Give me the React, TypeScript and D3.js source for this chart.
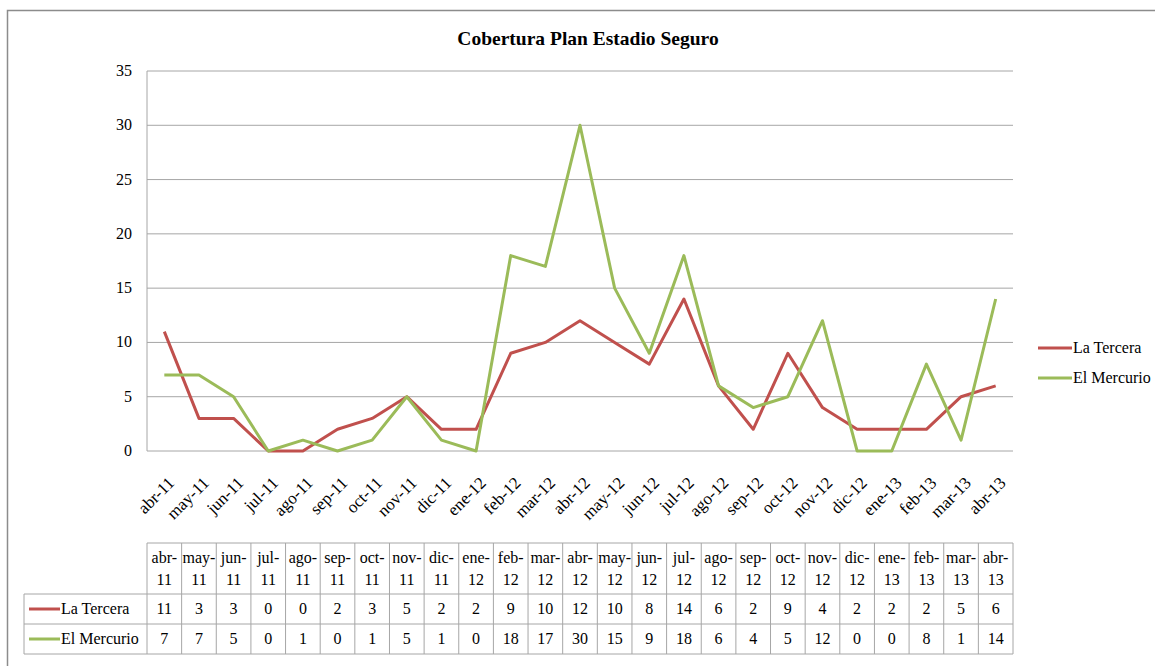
import React from 'react';
import * as d3 from 'd3';

const months = ['abr-11','may-11','jun-11','jul-11','ago-11','sep-11','oct-11','nov-11','dic-11','ene-12','feb-12','mar-12','abr-12','may-12','jun-12','jul-12','ago-12','sep-12','oct-12','nov-12','dic-12','ene-13','feb-13','mar-13','abr-13'];
const laTercera = [11,3,3,0,0,2,3,5,2,2,9,10,12,10,8,14,6,2,9,4,2,2,2,5,6];
const elMercurio = [7,7,5,0,1,0,1,5,1,0,18,17,30,15,9,18,6,4,5,12,0,0,8,1,14];
const yTicks = [0,5,10,15,20,25,30,35];

const series = [
  { name: 'La Tercera', values: laTercera, color: '#C0504D' },
  { name: 'El Mercurio', values: elMercurio, color: '#9BBB59' },
];

const W = 1155;
const H = 666;
const m = { left: 147, right: 1013, top: 71, bottom: 451 };
const font = 'Liberation Serif, DejaVu Serif, serif';
const grid = '#a6a6a6';

export default function App() {
  const x = d3.scaleBand<string>().domain(months).range([m.left, m.right]);
  const y = d3.scaleLinear().domain([0, 35]).range([m.bottom, m.top]);
  const cx = (d: string) => (x(d) as number) + x.bandwidth() / 2;

  const line = (vals: number[]) =>
    d3.line<number>().x((_, i) => cx(months[i])).y(v => y(v))(vals) as string;

  // table rows
  const tTop = 543, tHead = 594, tRow = 30, tLeft = 24;

  return (
    <svg width={W} height={H} style={{ position: 'absolute', left: 0, top: 0 }}>
      <g fontFamily={font}>
      <rect x={7.5} y={10.5} width={1160} height={670} fill="white" stroke="#8c8c8c" strokeWidth={1.5} />
      <text x={588} y={45} textAnchor="middle" fontSize={19.5} fontWeight="bold">Cobertura Plan Estadio Seguro</text>

      {yTicks.map(t => (
        <g key={t}>
          <line x1={m.left} x2={m.right} y1={y(t)} y2={y(t)} stroke={grid} strokeWidth={1} />
          <text x={132} y={y(t) + 5} textAnchor="end" fontSize={16}>{t}</text>
        </g>
      ))}
      <line x1={m.left} x2={m.left} y1={m.top} y2={m.bottom} stroke={grid} />

      {months.map(mo => (
        <text key={mo} fontSize={17} textAnchor="end"
          transform={`translate(${cx(mo) + 11},${m.bottom + 33}) rotate(-45)`}>{mo}</text>
      ))}

      {series.map(s => (
        <path key={s.name} d={line(s.values)} fill="none" stroke={s.color} strokeWidth={3} strokeLinejoin="round" />
      ))}

      {series.map((s, i) => (
        <g key={s.name}>
          <line x1={1038} x2={1072} y1={348 + i * 30} y2={348 + i * 30} stroke={s.color} strokeWidth={3} />
          <text x={1073} y={353 + i * 30} fontSize={16}>{s.name}</text>
        </g>
      ))}

      {/* data table */}
      <g stroke={grid} strokeWidth={1} fill="none">
        <line x1={m.left} x2={m.right} y1={tTop} y2={tTop} />
        <line x1={tLeft} x2={m.right} y1={tHead} y2={tHead} />
        <line x1={tLeft} x2={m.right} y1={tHead + tRow} y2={tHead + tRow} />
        <line x1={tLeft} x2={m.right} y1={tHead + 2 * tRow} y2={tHead + 2 * tRow} />
        <line x1={tLeft} x2={tLeft} y1={tHead} y2={tHead + 2 * tRow} />
        {months.map(mo => (
          <line key={mo} x1={x(mo)} x2={x(mo)} y1={tTop} y2={tHead + 2 * tRow} />
        ))}
        <line x1={m.right} x2={m.right} y1={tTop} y2={tHead + 2 * tRow} />
      </g>
      {months.map(mo => {
        const [a, b] = mo.split('-');
        return (
          <g key={mo} fontSize={16} textAnchor="middle">
            <text x={cx(mo)} y={tTop + 20}>{a}-</text>
            <text x={cx(mo)} y={tTop + 42}>{b}</text>
          </g>
        );
      })}
      {series.map((s, i) => (
        <g key={s.name}>
          <line x1={29} x2={60} y1={tHead + tRow * i + 15} y2={tHead + tRow * i + 15} stroke={s.color} strokeWidth={3} />
          <text x={61} y={tHead + tRow * i + 20} fontSize={16}>{s.name}</text>
          {s.values.map((v, j) => (
            <text key={j} x={cx(months[j])} y={tHead + tRow * i + 20} fontSize={16} textAnchor="middle">{v}</text>
          ))}
        </g>
      ))}
      </g>
    </svg>
  );
}
